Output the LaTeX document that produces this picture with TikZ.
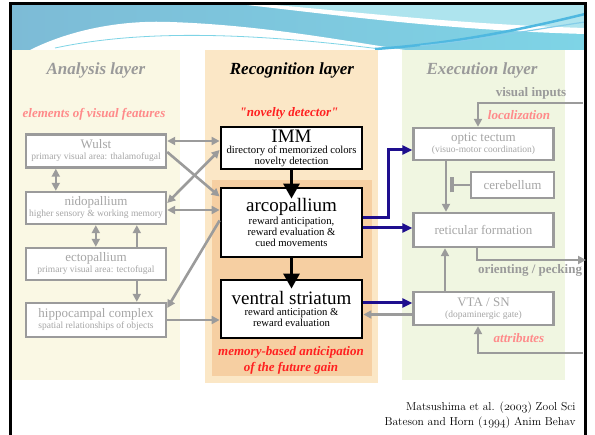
\documentclass[tikz,border=0pt]{standalone}
\usepackage{fontspec}
\newfontfamily\tnr{Liberation Serif}
\usetikzlibrary{arrows.meta,calc}

\definecolor{anbg}{HTML}{FAF8E4}
\definecolor{recbg}{HTML}{FBE7C6}
\definecolor{recinner}{HTML}{F6CFA2}
\definecolor{exbg}{HTML}{F0F6E1}
\definecolor{boxgray}{HTML}{9B9B9B}
\definecolor{txtgray}{HTML}{A6A6A6}
\definecolor{titlegray}{HTML}{9A9A9A}
\definecolor{softred}{HTML}{FF8A8A}
\definecolor{hotred}{HTML}{FF2020}
\definecolor{navy}{HTML}{1E0E8E}
\definecolor{hdrleft}{HTML}{7DBBD6}
\definecolor{hdrright}{HTML}{7ED4E6}
\definecolor{hdrlight}{HTML}{AEE4EE}
\definecolor{hdrstreak}{HTML}{4FB8E0}

\newcommand{\nm}[1]{{\fontsize{13}{13}\selectfont #1}}
\newcommand{\bignm}[1]{{\fontsize{19}{19}\selectfont #1}}
\newcommand{\osn}[1]{$\mathnormal{#1}$}

\begin{document}
\begin{tikzpicture}[
	x=1pt, y=-1pt,
	graybox/.style={draw=boxgray, line width=2.4pt, fill=white, text=txtgray,
		align=center, inner sep=0pt, minimum width=140pt,
		font=\tnr\fontsize{9.5}{11}\selectfont},
	centerbox/.style={draw=black, line width=2.8pt, fill=white,
		align=center, inner sep=0pt, minimum width=141pt,
		font=\tnr\fontsize{10.7}{11}\selectfont},
	grayarrow/.style={draw=boxgray, line width=2.6pt, -{Triangle[length=8pt,width=8pt]}},
	graydouble/.style={grayarrow, {Triangle[length=8pt,width=8pt]}-{Triangle[length=8pt,width=8pt]}},
	bluearrow/.style={draw=navy, line width=3pt, -{Triangle[length=10pt,width=9pt]}},
	blackarrow/.style={line width=3pt, -{Triangle[length=15pt,width=16pt]}},
	layertitle/.style={font=\tnr\fontsize{17}{17}\selectfont\bfseries\itshape},
	note/.style={font=\tnr\fontsize{13}{16}\selectfont\bfseries\itshape},
	plainnote/.style={font=\tnr\fontsize{13}{13}\selectfont\bfseries, text=titlegray}
	]
	\useasboundingbox (0,0) rectangle (595,435);
	% header
	\shade[left color=hdrleft, right color=hdrright] (10,4) rectangle (585,50);
	\fill[hdrlight] (240,4) .. controls (360,18) and (470,30) .. (585,30) -- (585,4) -- cycle;
	\fill[white] (238,4) .. controls (330,14) and (440,30) .. (585,34) -- (585,28)
		.. controls (450,24) and (340,10) .. (262,4) -- cycle;
	\fill[white] (30,50) .. controls (70,30) and (120,20) .. (170,22)
		.. controls (260,25) and (340,40) .. (405,50) -- cycle;
	\draw[hdrright, line width=0.8pt] (55,48) .. controls (130,32) and (230,30) .. (380,49);
	\draw[hdrstreak, line width=2.5pt] (375,49) .. controls (450,44) and (520,30) .. (585,14);
	\draw[hdrstreak!70, line width=1.2pt] (420,46) .. controls (480,40) and (530,30) .. (585,22);

	% layers
	\fill[anbg] (11,50) rectangle (180,380);
	\fill[recbg] (205,50) rectangle (378,383);
	\fill[recinner] (212,180) rectangle (372,376);
	\fill[exbg] (402,50) rectangle (565,380);
	\draw[line width=2.5pt] (10.5,435) -- (10.5,3.5) -- (585.5,3.5) -- (585.5,435);

	\node[layertitle, text=titlegray] (antitle) at (96,70) {Analysis layer};
	\node[layertitle] (rectitle) at (292,70) {Recognition layer};
	\node[layertitle, text=titlegray] (extitle) at (482,70) {Execution layer};
	\node[note, text=softred] (elem) at (94,114) {elements of visual features};
	\node[note, text=hotred] (novel) at (289,113) {"novelty detector"};
	\node[note, text=hotred, align=center] (memory) at (291,360) {memory-based anticipation\\of the future gain};
	\node[plainnote] (visintxt) at (531,93) {visual inputs};
	\node[note, text=softred] (loctxt) at (519,115) {localization};
	\node[plainnote] (orienttxt) at (530,270) {orienting / pecking};
	\node[note, text=softred] (attrtxt) at (519,338) {attributes};

	% boxes
	\node[graybox, minimum height=33pt] (wulst) at (96,151) {\nm{Wulst}\\primary visual area: thalamofugal};
	\node[graybox, minimum height=32pt] (nido) at (96,208) {\nm{nidopallium}\\higher sensory \& working memory};
	\node[graybox, minimum height=32pt] (ecto) at (96,264) {\nm{ectopallium}\\primary visual area: tectofugal};
	\node[graybox, minimum height=34pt] (hippo) at (96,320) {\nm{hippocampal complex}\\spatial relationships of objects};

	\node[centerbox, minimum height=42pt] (imm) at (291.5,148) {\bignm{IMM}\\directory of memorized colors\\novelty detection};
	\node[centerbox, minimum height=69pt] (arco) at (291.5,222.5) {\bignm{arcopallium}\\reward anticipation,\\reward evaluation \&\\cued movements};
	\node[centerbox, minimum height=58pt] (vs) at (291.5,309) {\bignm{ventral striatum}\\reward anticipation \&\\reward evaluation};

	\node[graybox, minimum height=32pt] (tectum) at (483.5,144) {\nm{optic tectum}\\(visuo-motor coordination)};
	\node[graybox, minimum width=83pt, minimum height=26pt] (cereb) at (512.5,185) {\nm{cerebellum}};
	\node[graybox, minimum height=34pt] (retic) at (483.5,230) {\nm{reticular formation}};
	\node[graybox, minimum height=33pt] (vta) at (483.5,308.5) {\nm{VTA / SN}\\(dopaminergic gate)};

	% analysis links
	\draw[graydouble] ([xshift=31pt]wulst.south west) -- ([xshift=31pt]nido.north west);
	\draw[graydouble] ([xshift=71pt]nido.south west) -- ([xshift=71pt]ecto.north west);
	\draw[grayarrow] ([xshift=112pt]ecto.north west) -- ([xshift=112pt]nido.south west);
	\draw[grayarrow] ([xshift=112pt]ecto.south west) -- ([xshift=112pt]hippo.north west);

	% analysis to recognition
	\draw[graydouble] ([yshift=10pt]wulst.east) coordinate (w1) -- (w1 -| imm.west);
	\draw[grayarrow] ([yshift=-1pt]wulst.east) -- ([yshift=26pt]arco.west);
	\draw[graydouble] ([yshift=5pt]nido.east) -- ([yshift=-2pt]imm.west);
	\draw[graydouble] ([yshift=-2pt]nido.east) coordinate (n1) -- (n1 -| arco.west);
	\draw[grayarrow] ([yshift=2pt]arco.west) -- ([yshift=12pt]hippo.east);
	\draw[grayarrow] (hippo.east) -- (hippo.east -| vs.west);

	% recognition
	\draw[blackarrow] (imm.south) -- ([yshift=-12pt]arco.north);
	\draw[blackarrow] (arco.south) -- ([yshift=-10pt]vs.north);

	% recognition to execution
	\draw[bluearrow] ([yshift=4.5pt]arco.east) -- ++(25,0) |- ([yshift=-6pt]tectum.west);
	\draw[bluearrow] ([yshift=-5.5pt]arco.east) coordinate (a1) -- (a1 -| retic.west);
	\draw[bluearrow] ([yshift=6pt]vs.east) coordinate (v1) -- (v1 -| vta.west);
	\draw[grayarrow] ([yshift=-6pt]vta.west) coordinate (v2) -- (v2 -| vs.east);

	% execution
	\coordinate (visin) at (583,103);
	\coordinate (inh) at (450,185);
	\coordinate (orient) at (586,260);
	\coordinate (attr) at (583,353);
	\draw[grayarrow] (visin) -| ([xshift=-5.5pt]tectum.north);
	\draw[grayarrow] ([xshift=-37.5pt]tectum.south) -- ([xshift=-37.5pt]retic.north);
	\draw[draw=boxgray, line width=2.6pt, -{Bar[width=15pt,line width=4pt]}] (cereb.west) -- (inh);
	\draw[grayarrow] ([xshift=-6.5pt]retic.south) |- (orient);
	\draw[grayarrow] ([xshift=-38.5pt]vta.north) -- ([xshift=-38.5pt]retic.south);
	\draw[grayarrow] (attr) -| ([xshift=-5.5pt]vta.south);

	% reference
	\node[anchor=east, align=right, font=\fontsize{11.5}{15}\selectfont] (cite) at (579,415)
		{Matsushima et al. (\osn{2003}) Zool Sci\\Bateson and Horn (\osn{1994}) Anim Behav};
\end{tikzpicture}
\end{document}
